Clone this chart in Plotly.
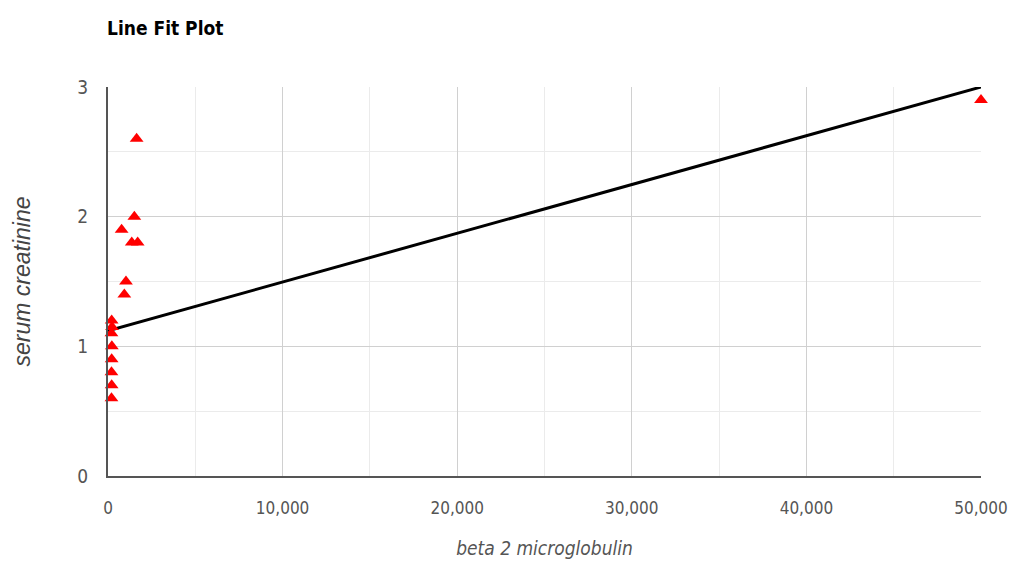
import plotly.graph_objects as go

# Data
beta2_micro = [1640, 1510, 780, 1360, 1700, 1030, 935,
               210, 230, 200, 220, 210, 200, 210, 200, 50000]
serum_creat = [2.6, 2.0, 1.9, 1.8, 1.8, 1.5, 1.4,
               1.2, 1.15, 1.1, 1.0, 0.9, 0.8, 0.7, 0.6, 2.9]
fit_x = [0, 50000]
fit_y = [1.12, 3.0]

x_ticks = [0, 10000, 20000, 30000, 40000, 50000]
x_ticklabels = ["0", "10,000", "20,000", "30,000", "40,000", "50,000"]
y_ticks = [0, 1, 2, 3]

NARROW = "DejaVu Sans Condensed, Liberation Sans Narrow, Arial Narrow, sans-serif"

fig = go.Figure()
fig.add_trace(go.Scatter(
    x=fit_x, y=fit_y, mode="lines",
    line=dict(color="black", width=3), showlegend=False, hoverinfo="skip"))
fig.add_trace(go.Scatter(
    x=beta2_micro, y=serum_creat, mode="markers", cliponaxis=False,
    marker=dict(symbol="triangle-up", color="red", size=12),
    showlegend=False))

fig.update_layout(
    width=1009, height=573,
    margin=dict(l=108, r=28, t=87, b=97, autoexpand=False),
    paper_bgcolor="white", plot_bgcolor="white",
    title=dict(text="<b>Line Fit Plot</b>", x=107 / 1009, xanchor="left",
               y=1 - 28 / 573, yanchor="middle",
               font=dict(family=NARROW, size=19, color="black")),
    xaxis=dict(
        range=[0, 50000], tickvals=x_ticks, ticktext=x_ticklabels,
        ticklabeloverflow="allow", automargin=False,
        showgrid=True, gridcolor="#d0d0d0", gridwidth=1,
        minor=dict(dtick=5000, showgrid=True, gridcolor="#ebebeb", gridwidth=1),
        showline=True, linecolor="#555555", linewidth=2,
        zeroline=False, ticks="", ticklabelstandoff=16,
        tickfont=dict(family=NARROW, size=17, color="#555555"),
        title=dict(text="<i>beta 2 microglobulin</i>", standoff=24,
                   font=dict(family=NARROW, size=19, color="#555555")),
    ),
    yaxis=dict(
        range=[0, 3], tickvals=y_ticks, automargin=False,
        showgrid=True, gridcolor="#d0d0d0", gridwidth=1,
        minor=dict(dtick=0.5, showgrid=True, gridcolor="#ebebeb", gridwidth=1),
        showline=True, linecolor="#555555", linewidth=2,
        zeroline=False, ticks="", ticklabelstandoff=14,
        tickfont=dict(family=NARROW, size=19, color="#555555"),
        title=dict(text="<i>serum creatinine</i>", standoff=40,
                   font=dict(family="Liberation Sans, Arial, sans-serif", size=23, color="#444444")),
    ),
)

fig.write_html("out.html")
